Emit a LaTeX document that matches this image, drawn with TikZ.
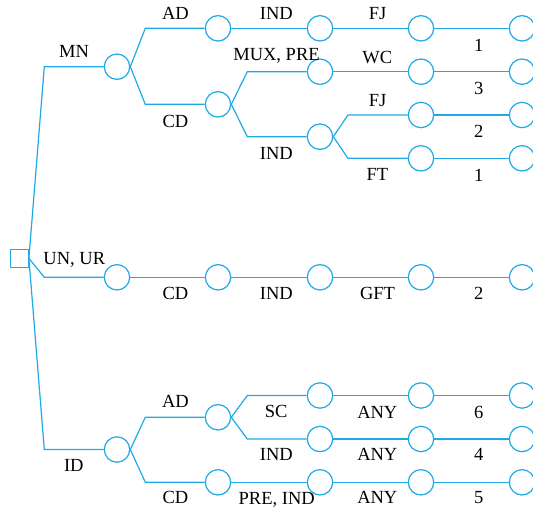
\documentclass[tikz,border=0pt]{standalone}
\usepackage{fontspec}
\setmainfont{Liberation Serif}
\definecolor{tc}{RGB}{30,170,230}
\begin{document}
\begin{tikzpicture}[x=1pt,y=-1pt,
  conn/.style={draw=tc,line width=1.2pt},
  circ/.style={circle,draw=tc,line width=1.2pt,minimum size=25.4pt,inner sep=0pt},
  rootbox/.style={rectangle,draw=tc,line width=1.2pt,minimum width=17.6pt,minimum height=18pt,inner sep=0pt},
  lab/.style={anchor=base,inner sep=0pt,font=\fontsize{18.5}{20}\selectfont}]
\useasboundingbox (0,0) rectangle (533,509);
% root and branch points
\node[rootbox] (root) at (19.5,258.3) {};
\coordinate (b1) at (44.3,66.7);
\coordinate (b2) at (44.3,277.3);
\coordinate (b3) at (44.3,449.5);
% column 1
\node[circ] (mn) at (117,66.7) {};
\node[circ] (un) at (117,277.3) {};
\node[circ] (id) at (117,449.5) {};
% column 2
\node[circ] (mnad) at (218,28.3) {};
\node[circ] (mncd) at (218,104.3) {};
\node[circ] (uncd) at (218,277.3) {};
\node[circ] (idad) at (218,417.3) {};
\node[circ] (idcd) at (218,482.3) {};
% column 3
\node[circ] (c3a) at (320,28.3) {};
\node[circ] (c3b) at (320,71.7) {};
\node[circ] (c3c) at (320,136.7) {};
\node[circ] (c3u) at (320,277.3) {};
\node[circ] (c3d) at (320,395.5) {};
\node[circ] (c3e) at (320,439) {};
\node[circ] (c3f) at (320,482.3) {};
% column 4
\node[circ] (c4a) at (421,28.3) {};
\node[circ] (c4b) at (421,71.7) {};
\node[circ] (c4c) at (421,115) {};
\node[circ] (c4d) at (421,158.3) {};
\node[circ] (c4u) at (421,277.3) {};
\node[circ] (c4e) at (421,395.5) {};
\node[circ] (c4f) at (421,439) {};
\node[circ] (c4g) at (421,482.3) {};
% column 5
\node[circ] (c5a) at (522,28.3) {};
\node[circ] (c5b) at (522,71.7) {};
\node[circ] (c5c) at (522,115) {};
\node[circ] (c5d) at (522,158.3) {};
\node[circ] (c5u) at (522,277.3) {};
\node[circ] (c5e) at (522,395.5) {};
\node[circ] (c5f) at (522,439) {};
\node[circ] (c5g) at (522,482.3) {};
% connectors from root
\draw[conn] (root.east) -- (b1) -- (mn.west);
\draw[conn] (root.east) -- (b2) -- (un.west);
\draw[conn] (root.east) -- (b3) -- (id.west);
% MN branch
\draw[conn] (mn.east) -- ([xshift=15pt]mn.east |- mnad) -- (mnad.west);
\draw[conn] (mn.east) -- ([xshift=15pt]mn.east |- mncd) -- (mncd.west);
\draw[conn] (mnad) -- (c3a) -- (c4a) -- (c5a);
\draw[conn] (mncd.east) -- ([xshift=16pt]mncd.east |- c3b) -- (c3b.west);
\draw[conn] (mncd.east) -- ([xshift=16pt]mncd.east |- c3c) -- (c3c.west);
\draw[conn] (c3b) -- (c4b) -- (c5b);
\draw[conn] (c3c.east) -- ([xshift=14.6pt]c3c.east |- c4c) -- (c4c.west);
\draw[conn] (c3c.east) -- ([xshift=14.6pt]c3c.east |- c4d) -- (c4d.west);
\draw[conn] (c4c) -- (c5c);
\draw[conn] (c4d) -- (c5d);
% UN, UR branch
\draw[conn] (un) -- (uncd) -- (c3u) -- (c4u) -- (c5u);
% ID branch
\draw[conn] (id.east) -- ([xshift=15pt]id.east |- idad) -- (idad.west);
\draw[conn] (id.east) -- ([xshift=15pt]id.east |- idcd) -- (idcd.west);
\draw[conn] (idad.east) -- ([xshift=16pt]idad.east |- c3d) -- (c3d.west);
\draw[conn] (idad.east) -- ([xshift=16pt]idad.east |- c3e) -- (c3e.west);
\draw[conn] (c3d) -- (c4e) -- (c5e);
\draw[conn] (c3e) -- (c4f) -- (c5f);
\draw[conn] (idcd) -- (c3f) -- (c4g) -- (c5g);
% labels
\node[lab] (lmn) at (74,57.3) {MN};
\node[lab] (lunur) at (74.3,264) {UN, UR};
\node[lab] (lid) at (73.8,471) {ID};
\node[lab] (lad1) at (175.5,19) {AD};
\node[lab] (lcd1) at (175.5,127.3) {CD};
\node[lab] (lcd2) at (175.5,299.3) {CD};
\node[lab] (lad2) at (175.5,407.7) {AD};
\node[lab] (lcd3) at (175.5,503.3) {CD};
\node[lab] (lind1) at (276.3,19) {IND};
\node[lab] (lmux) at (276.5,60) {MUX, PRE};
\node[lab] (lind2) at (276.3,159) {IND};
\node[lab] (lind3) at (276.3,299) {IND};
\node[lab] (lsc) at (276.2,417.3) {SC};
\node[lab] (lind4) at (276.3,460.7) {IND};
\node[lab] (lpre) at (276.7,504) {PRE, IND};
\node[lab] (lfj1) at (377.7,19) {FJ};
\node[lab] (lwc) at (377.3,63.3) {WC};
\node[lab] (lfj2) at (377.7,106.7) {FJ};
\node[lab] (lft) at (377.5,180) {FT};
\node[lab] (lgft) at (377.5,299.3) {GFT};
\node[lab] (lany1) at (377.3,418.3) {ANY};
\node[lab] (lany2) at (377.3,460.5) {ANY};
\node[lab] (lany3) at (377.3,503.5) {ANY};
\node[lab] (ln1) at (478.8,51.7) {1};
\node[lab] (ln3) at (478.8,94) {3};
\node[lab] (ln2) at (478.8,137.3) {2};
\node[lab] (ln1b) at (478.8,181) {1};
\node[lab] (ln2b) at (478.8,299.3) {2};
\node[lab] (ln6) at (478.8,418.3) {6};
\node[lab] (ln4) at (478.8,460.5) {4};
\node[lab] (ln5) at (478.8,503.5) {5};
\end{tikzpicture}
\end{document}
